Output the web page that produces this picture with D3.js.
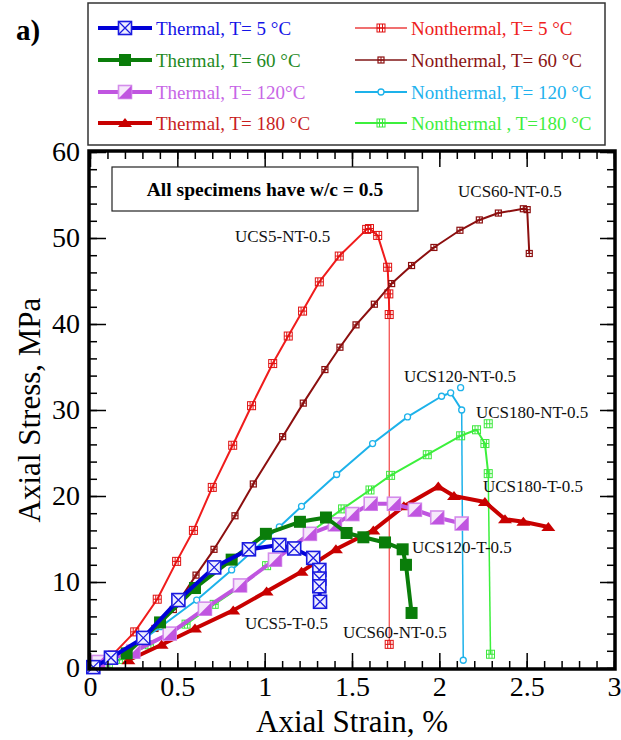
<!DOCTYPE html>
<html><head><meta charset="utf-8">
<script src="https://cdn.jsdelivr.net/npm/d3@7"></script>
<style>body{margin:0;background:#fff}svg{display:block}text{font-family:"Liberation Serif","Times New Roman",serif}</style>
</head><body><svg id="c" width="621" height="740"></svg>
<script>
// ---------- data (strain %, stress MPa) ----------
const xTicks = [0, 0.5, 1, 1.5, 2, 2.5, 3];
const xTickLabels = ["0", "0.5", "1", "1.5", "2", "2.5", "3"];
const yTicks = [0, 10, 20, 30, 40, 50, 60];
const yTickLabels = ["0", "10", "20", "30", "40", "50", "60"];

const t5Strain  = [0.019, 0.12, 0.305, 0.506, 0.711, 0.910, 1.084, 1.169, 1.278, 1.313, 1.313, 1.313, 1.317];
const t5Stress  = [0.1, 1.2, 3.5, 7.9, 11.7, 13.8, 14.3, 13.9, 12.8, 11.4, 10.4, 9.5, 7.7];

const t60Strain = [0.21, 0.401, 0.601, 0.811, 1.007, 1.202, 1.351, 1.469, 1.565, 1.689, 1.790, 1.809, 1.841];
const t60Stress = [1.7, 5.3, 9.3, 12.6, 15.6, 17.0, 17.5, 15.7, 15.2, 14.6, 13.8, 12.0, 6.4];

const t120Strain = [0.048, 0.248, 0.456, 0.658, 0.859, 1.059, 1.259, 1.402, 1.502, 1.607, 1.740, 1.860, 1.988, 2.128];
const t120Stress = [0.7, 1.9, 4.0, 6.9, 9.6, 12.6, 15.6, 16.7, 17.9, 19.1, 19.1, 18.4, 17.5, 16.8];

const t180Strain = [0.22, 0.41, 0.601, 0.820, 1.011, 1.211, 1.408, 1.622, 1.797, 1.994, 2.084, 2.261, 2.376, 2.481, 2.624];
const t180Stress = [0.9, 2.7, 4.6, 6.7, 8.9, 11.2, 13.8, 16.0, 18.8, 21.1, 20.0, 19.3, 17.3, 17.0, 16.4];

const nt5Strain = [0.042, 0.128, 0.256, 0.385, 0.496, 0.592, 0.700, 0.817, 0.925, 1.046, 1.135, 1.217, 1.313, 1.427, 1.584, 1.600, 1.647, 1.704, 1.711, 1.713, 1.713];
const nt5Stress = [0.5, 1.5, 4.2, 8.0, 12.4, 16.0, 21.0, 25.9, 30.5, 35.4, 38.6, 41.5, 44.9, 47.9, 51.0, 51.1, 50.3, 46.6, 43.5, 41.1, 2.75];

const nt60Strain = [0.023, 0.248, 0.372, 0.477, 0.607, 0.710, 0.830, 0.935, 1.103, 1.221, 1.345, 1.431, 1.523, 1.628, 1.727, 1.841, 1.969, 2.118, 2.229, 2.338, 2.481, 2.503, 2.515];
const nt60Stress = [0.1, 2.3, 4.6, 6.8, 10.8, 13.8, 17.7, 21.4, 26.9, 30.8, 34.7, 37.3, 39.9, 42.3, 44.7, 46.8, 48.9, 50.9, 52.1, 52.9, 53.4, 53.3, 48.2];

const nt120Strain = [0.057, 0.216, 0.405, 0.611, 0.811, 1.084, 1.211, 1.412, 1.618, 1.818, 2.013, 2.065, 2.128, 2.137];
const nt120Stress = [0.35, 2.0, 4.8, 7.9, 11.4, 16.4, 18.8, 22.5, 26.1, 29.2, 31.6, 32.0, 30.0, 0.9];
const nt120ExtraStrain = [2.122];
const nt120ExtraStress = [32.6];

const nt180Strain = [0.105, 0.177, 0.340, 0.550, 0.711, 0.864, 1.011, 1.255, 1.446, 1.603, 1.721, 1.931, 2.122, 2.213, 2.261, 2.280, 2.293];
const nt180Stress = [0.5, 1.0, 2.7, 5.1, 7.4, 9.5, 11.9, 15.7, 18.5, 20.7, 22.4, 24.8, 27.0, 27.7, 26.1, 22.6, 1.6];
const nt180ExtraStrain = [2.280];
const nt180ExtraStress = [28.4];

const legendNames = ["Thermal, T= 5 °C", "Thermal, T= 60 °C", "Thermal, T= 120°C", "Thermal, T= 180 °C",
  "Nonthermal, T= 5 °C", "Nonthermal, T= 60 °C", "Nonthermal, T= 120 °C", "Nonthermal , T=180 °C"];

const curveLabels = ["UCS5-NT-0.5", "UCS60-NT-0.5", "UCS120-NT-0.5", "UCS180-NT-0.5", "UCS180-T-0.5", "UCS120-T-0.5", "UCS60-NT-0.5", "UCS5-T-0.5"];
const curveLabelX = [0.83, 2.107, 1.797, 2.21, 2.25, 1.843, 1.448, 0.887];
const curveLabelY = [49.5, 54.8, 33.3, 29.1, 20.5, 13.4, 3.5, 4.5];

// ---------- series ----------
const zip = (a, b) => a.map((v, i) => [v, b[i]]);
const series = [
  {pts: zip(nt5Strain, nt5Stress), color: "#f01c1c", mcol: "#e01010", lw: 2, m: "sqPlus", tail: 1, tailW: 1},
  {pts: zip(nt60Strain, nt60Stress), color: "#8c0f0f", mcol: "#8c0f0f", lw: 2, m: "sqSmall"},
  {pts: zip(nt120Strain, nt120Stress), color: "#1db2ea", mcol: "#1db2ea", lw: 2, m: "circ", tail: 1, tailW: 1.5,
    extra: zip(nt120ExtraStrain, nt120ExtraStress)},
  {pts: zip(nt180Strain, nt180Stress), color: "#3cf03c", mcol: "#3ce83c", lw: 2, m: "sqPlus", tail: 1, tailW: 1.5,
    extra: zip(nt180ExtraStrain, nt180ExtraStress)},
  {pts: zip(t180Strain, t180Stress), color: "#c80000", mcol: "#c80000", lw: 4, m: "tri"},
  {pts: zip(t120Strain, t120Stress), color: "#c055e0", mcol: "#c055e0", lw: 4, m: "sqHalf"},
  {pts: zip(t60Strain, t60Stress), color: "#0a7d0a", mcol: "#0a7d0a", lw: 4, m: "sqFill"},
  {pts: zip(t5Strain, t5Stress), color: "#0000d8", mcol: "#1a1ae0", lw: 4, m: "sqX"},
];

const svg = d3.select("#c");
const x = d3.scaleLinear().domain([0, 3]).range([90, 614]);
const y = d3.scaleLinear().domain([0, 60]).range([668, 152]);

function marker(g, type, col, cx, cy) {
  if (type === "sqX") {
    const s = 13;
    g.append("rect").attr("x", cx - s/2).attr("y", cy - s/2).attr("width", s).attr("height", s)
      .attr("fill", "#eeeeff").attr("stroke", col).attr("stroke-width", 1.6);
    g.append("path").attr("d", `M${cx-s/2},${cy-s/2}L${cx+s/2},${cy+s/2}M${cx+s/2},${cy-s/2}L${cx-s/2},${cy+s/2}`)
      .attr("stroke", col).attr("stroke-width", 1.3);
  } else if (type === "sqFill") {
    const s = 12;
    g.append("rect").attr("x", cx - s/2).attr("y", cy - s/2).attr("width", s).attr("height", s).attr("fill", col);
  } else if (type === "sqHalf") {
    const s = 13;
    g.append("rect").attr("x", cx - s/2).attr("y", cy - s/2).attr("width", s).attr("height", s)
      .attr("fill", "#f6e8fb").attr("stroke", "#d48ceb").attr("stroke-width", 1.6);
    g.append("path").attr("d", `M${cx+s/2},${cy-s/2}L${cx+s/2},${cy+s/2}L${cx-s/2},${cy+s/2}Z`).attr("fill", col);
  } else if (type === "tri") {
    g.append("path").attr("d", `M${cx-7},${cy+4}L${cx+7},${cy+4}L${cx},${cy-5}Z`).attr("fill", col);
  } else if (type === "sqPlus") {
    const s = 8;
    g.append("rect").attr("x", cx - s/2).attr("y", cy - s/2).attr("width", s).attr("height", s)
      .attr("fill", "none").attr("stroke", col).attr("stroke-width", 1);
    g.append("path").attr("d", `M${cx-1.5},${cy-s/2}V${cy+s/2}M${cx+1.5},${cy-s/2}V${cy+s/2}M${cx-s/2},${cy}H${cx+s/2}`)
      .attr("stroke", col).attr("stroke-width", 1);
  } else if (type === "sqSmall") {
    const s = 6;
    g.append("rect").attr("x", cx - s/2).attr("y", cy - s/2).attr("width", s).attr("height", s)
      .attr("fill", "none").attr("stroke", col).attr("stroke-width", 1.2);
    g.append("path").attr("d", `M${cx},${cy-s/2}V${cy+s/2}M${cx-s/2},${cy}H${cx+s/2}`)
      .attr("stroke", col).attr("stroke-width", 1);
  } else if (type === "circ") {
    g.append("circle").attr("cx", cx).attr("cy", cy).attr("r", 3).attr("fill", "#fff")
      .attr("stroke", col).attr("stroke-width", 1.3);
  }
}

// ---------- plot frame, ticks ----------
const plot = svg.append("g");
const line = d3.line().x(d => x(d[0])).y(d => y(d[1]));

const minorX = d3.range(0, 3.0001, 0.1).map(v => +v.toFixed(2));
const minorY = d3.range(0, 60.0001, 2);

function tickAxis(axisFn, scale, vals, size, tr) {
  const g = svg.append("g").attr("transform", tr)
    .call(axisFn(scale).tickValues(vals).tickSize(size).tickFormat(""));
  g.select(".domain").remove();
  g.selectAll(".tick line").attr("stroke", "#000").attr("stroke-width", 1.5);
  return g;
}
tickAxis(d3.axisBottom, x, minorX, -7, `translate(0,${y(0)})`);
tickAxis(d3.axisTop, x, minorX, -7, `translate(0,${y(60)})`);
tickAxis(d3.axisLeft, y, minorY, -7, `translate(${x(0)},0)`);
tickAxis(d3.axisRight, y, minorY, -7, `translate(${x(3)},0)`);
tickAxis(d3.axisBottom, x, xTicks, -15, `translate(0,${y(0)})`);
tickAxis(d3.axisTop, x, xTicks, -15, `translate(0,${y(60)})`);
tickAxis(d3.axisLeft, y, yTicks, -16, `translate(${x(0)},0)`);
tickAxis(d3.axisRight, y, yTicks, -14, `translate(${x(3)},0)`);

const xl = svg.append("g").attr("transform", `translate(0,${y(0)})`)
  .call(d3.axisBottom(x).tickValues(xTicks).tickSize(0).tickPadding(8).tickFormat((d, i) => xTickLabels[i]));
xl.select(".domain").remove();
xl.selectAll("text").attr("font-size", 28).attr("fill", "#000").attr("font-family", "Liberation Serif");
const yl = svg.append("g").attr("transform", `translate(${x(0)},0)`)
  .call(d3.axisLeft(y).tickValues(yTicks).tickSize(0).tickPadding(10).tickFormat((d, i) => yTickLabels[i]));
yl.select(".domain").remove();
yl.selectAll("text").attr("font-size", 28).attr("fill", "#000").attr("font-family", "Liberation Serif");

// ---------- series ----------
series.forEach(s => {
  const g = plot.append("g");
  const n = s.pts.length;
  const mainPts = s.tail ? s.pts.slice(0, n - s.tail) : s.pts;
  g.append("path").attr("d", line(mainPts)).attr("fill", "none").attr("stroke", s.color)
    .attr("stroke-width", s.lw).attr("stroke-linejoin", "round");
  if (s.tail) {
    g.append("path").attr("d", line(s.pts.slice(n - s.tail - 1))).attr("fill", "none").attr("stroke", s.color)
      .attr("stroke-width", s.tailW);
  }
  s.pts.forEach(p => marker(g, s.m, s.mcol, x(p[0]), y(p[1])));
  if (s.extra) s.extra.forEach(p => marker(g, s.m, s.mcol, x(p[0]), y(p[1])));
});

// frame
svg.append("rect").attr("x", x(0) - 1).attr("y", y(60) - 1).attr("width", x(3) - x(0) + 2).attr("height", y(0) - y(60) + 2)
  .attr("fill", "none").attr("stroke", "#000").attr("stroke-width", 3.5);

// annotation box
svg.append("rect").attr("x", 112).attr("y", 167).attr("width", 306).attr("height", 44)
  .attr("fill", "#fff").attr("stroke", "#222").attr("stroke-width", 1.2);
svg.append("text").attr("x", 265).attr("y", 196).attr("text-anchor", "middle")
  .attr("font-size", 19.5).attr("font-weight", "bold").text("All specimens have w/c = 0.5");

// curve labels
curveLabels.forEach((t, i) => {
  svg.append("text").attr("x", x(curveLabelX[i])).attr("y", y(curveLabelY[i])).attr("text-anchor", "start")
    .attr("font-size", 17).attr("fill", "#111").text(t);
});

// axis titles
svg.append("text").attr("x", 352).attr("y", 732).attr("text-anchor", "middle").attr("font-size", 31).text("Axial Strain, %");
svg.append("text").attr("transform", "translate(40,410) rotate(-90)").attr("text-anchor", "middle")
  .attr("font-size", 31).text("Axial Stress, MPa");

svg.append("text").attr("x", 16).attr("y", 40).attr("font-size", 29).attr("font-weight", "bold").text("a)");

// ---------- legend ----------
svg.append("rect").attr("x", 88).attr("y", 3).attr("width", 517).attr("height", 142)
  .attr("fill", "#fff").attr("stroke", "#333").attr("stroke-width", 1.5);
const legOrder = [7, 6, 5, 4, 0, 1, 2, 3];
const legText = ["#1414e6", "#1f8a1f", "#c766e6", "#c81e1e", "#ee2020", "#8b1414", "#22b2ee", "#40ee40"];
const legLine = ["#0000d8", "#0a7d0a", "#c055e0", "#c80000", "#f07070", "#a05050", "#1db2ea", "#3cf03c"];
const rowY = [28, 60, 92, 123];
legendNames.forEach((name, i) => {
  const col = i < 4 ? 0 : 1;
  const r = i % 4;
  const x0 = col ? 355 : 98, x1 = col ? 407 : 152;
  const s = series[legOrder[i]];
  const g = svg.append("g");
  g.append("line").attr("x1", x0).attr("x2", x1).attr("y1", rowY[r]).attr("y2", rowY[r])
    .attr("stroke", legLine[i]).attr("stroke-width", col ? 2 : 4);
  marker(g, s.m, s.mcol, (x0 + x1) / 2, rowY[r]);
  g.append("text").attr("x", x1 + 4).attr("y", rowY[r] + 7).attr("font-size", 19).attr("fill", legText[i]).text(name);
});
</script></body></html>
